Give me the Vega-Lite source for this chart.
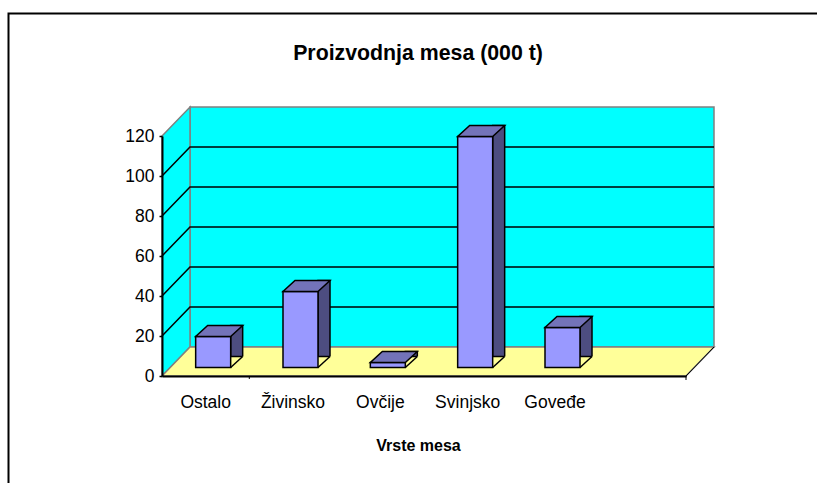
{
"$schema":"https://vega.github.io/schema/vega-lite/v6.json",
"width":524,"height":240,
"autosize":"none",
"padding":{"left":162,"top":136,"right":131,"bottom":107},
"background":"white",
"title":{"text":"Proizvodnja mesa (000 t)","font":"Liberation Sans","fontSize":21.3,"fontWeight":"bold","color":"black","anchor":"middle","dx":-6,"dy":55,"offset":0,"frame":"group"},
"data":{"values":[
{"vrsta":"Ostalo","proizvodnja":15.5},
{"vrsta":"Živinsko","proizvodnja":38},
{"vrsta":"Ovčije","proizvodnja":2.5},
{"vrsta":"Svinjsko","proizvodnja":115.5},
{"vrsta":"Goveđe","proizvodnja":20}
]},
"encoding":{
"x":{"field":"vrsta","type":"nominal","sort":null,"scale":{"domain":["Ostalo","Živinsko","Ovčije","Svinjsko","Goveđe"," "],"paddingInner":0,"paddingOuter":0},
 "axis":{"title":"Vrste mesa","titleFont":"Liberation Sans","titleFontSize":16,"titleFontWeight":"bold","titleColor":"black","titlePadding":27,"titleX":256,"labelAngle":0,"labelFont":"Liberation Sans","labelFontSize":17.5,"labelColor":"black","labelPadding":17,"ticks":false,"domainColor":"black","domainWidth":2,"zindex":1}},
"y":{"field":"proizvodnja","type":"quantitative","scale":{"domain":[0,120],"nice":false},
 "axis":{"title":null,"values":[0,20,40,60,80,100,120],"grid":false,"labelFont":"Liberation Sans","labelFontSize":17.5,"labelColor":"black","labelPadding":5,"tickColor":"black","tickSize":3,"tickWidth":1.5,"domainColor":"black","domainWidth":2,"zindex":1}}
},
"layer":[
{"data":{"values":[{"vrsta":"Ostalo","proizvodnja":0}]},
 "encoding":{"x":{"field":"vrsta","type":"nominal","bandPosition":0,"sort":null}},
 "layer":[
 {"mark":{"type":"point","shape":"M-153.5,107L-153.5,-362.5L655,-362.5","size":4,"filled":false,"fill":null,"stroke":"black","strokeWidth":2,"opacity":1}},
 {"mark":{"type":"point","shape":"M28,-29L552,-29L552,-269L28,-269Z","size":4,"filled":true,"fill":"#00ffff","stroke":"#808080","strokeWidth":1.5,"opacity":1}},
 {"mark":{"type":"point","shape":"M0,0L28,-29L28,-269L0,-240Z","size":4,"filled":true,"fill":"#00ffff","stroke":"#808080","strokeWidth":1.5,"opacity":1}},
 {"mark":{"type":"point","shape":"M0,0L28,-29L552,-29L524,0Z","size":4,"filled":true,"fill":"#ffff99","stroke":"#808080","strokeWidth":1.5,"opacity":1}},
 {"mark":{"type":"point","shape":"M524,0L552,-29M524,0L524,4","size":4,"filled":false,"fill":null,"stroke":"black","strokeWidth":1,"opacity":1}},
 {"mark":{"type":"point","shape":"M87.3,0L87.3,3","size":4,"filled":false,"fill":null,"stroke":"black","strokeWidth":1,"opacity":1}}
 ]},
{"data":{"values":[{"vrsta":"Ostalo","proizvodnja":20},{"vrsta":"Ostalo","proizvodnja":40},{"vrsta":"Ostalo","proizvodnja":60},{"vrsta":"Ostalo","proizvodnja":80},{"vrsta":"Ostalo","proizvodnja":100}]},
 "encoding":{"x":{"field":"vrsta","type":"nominal","bandPosition":0,"sort":null}},
 "mark":{"type":"point","shape":"M0,0L28,-29L552,-29","size":4,"filled":false,"fill":null,"stroke":"black","strokeWidth":1.5,"opacity":1}},
{"mark":{"type":"bar","size":12,"xOffset":31,"yOffset":-19.5,"y2Offset":-8.5,"fill":"#4d4d80","stroke":"black","strokeWidth":1.5}},
{"encoding":{"y":{"datum":0}},"mark":{"type":"point","shape":"M25.5,-7L39,-7L39,-19.5L37,-19.5Z","size":4,"filled":true,"fill":"#ffff99","strokeWidth":0,"opacity":1}},
{"encoding":{"y":{"datum":0}},"mark":{"type":"point","shape":"M25,-8.5L37,-19.5","size":4,"filled":false,"fill":null,"stroke":"black","strokeWidth":1.5,"opacity":1}},
{"mark":{"type":"bar","size":35,"xOffset":7.5,"yOffset":-8.5,"y2Offset":-8.5,"fill":"#9999ff","stroke":"black","strokeWidth":1.5}},
{"mark":{"type":"point","shape":"M-10,-8.5L25,-8.5L37,-19.5L2,-19.5Z","size":4,"filled":true,"fill":"#7373b9","stroke":"black","strokeWidth":1.5,"opacity":1}}
]
}
